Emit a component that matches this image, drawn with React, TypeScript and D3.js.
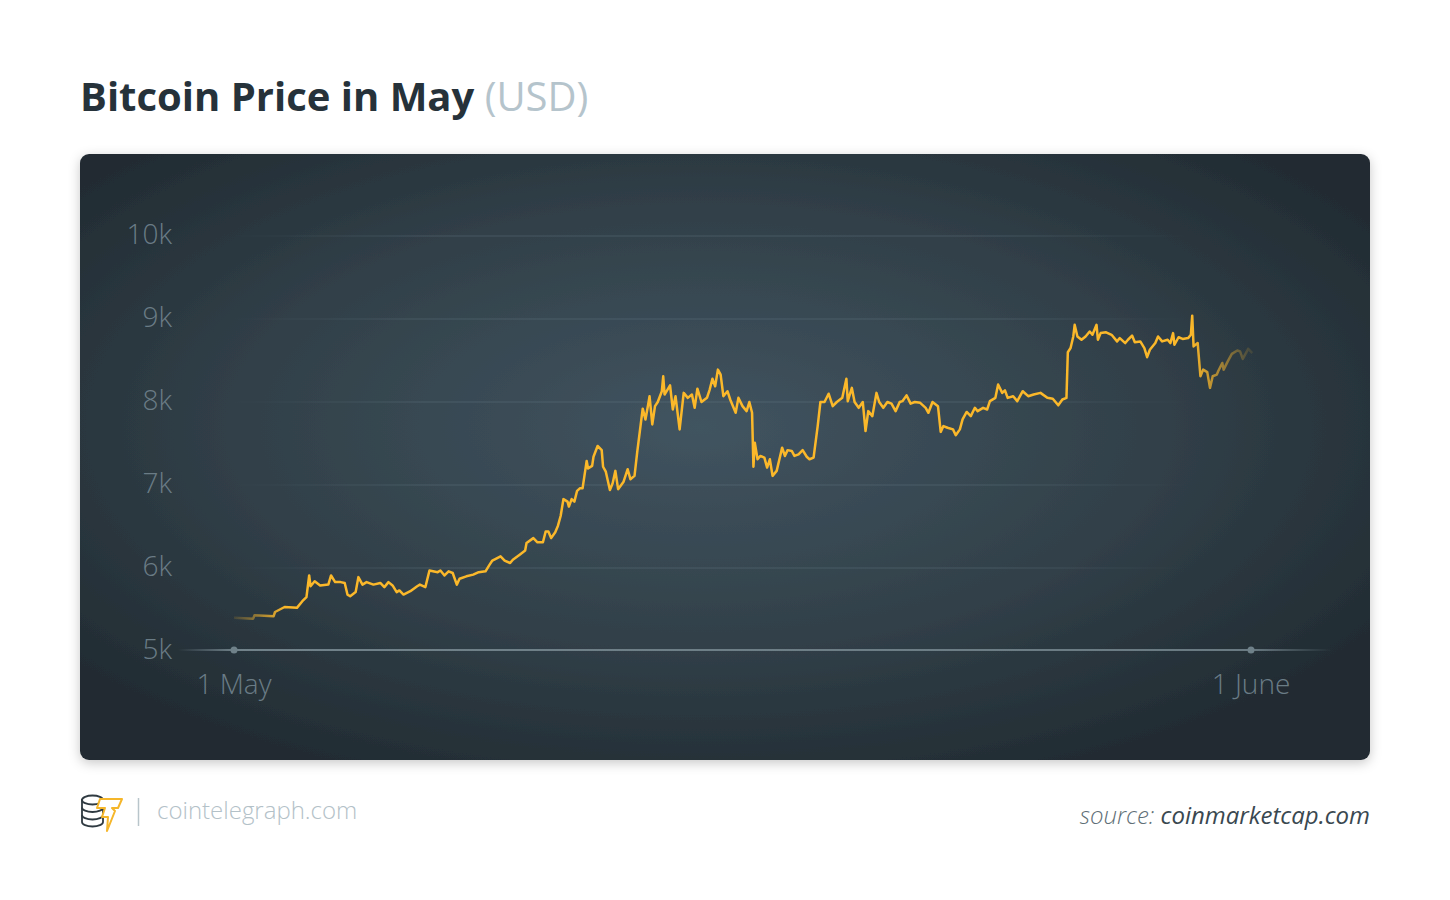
import React from "react";
import * as d3 from "d3";

// hours since 1 May 00:00 UTC
const hours = [
  0, 14, 15, 29, 30, 37, 46, 50, 53, 55, 56, 59, 63, 69, 71, 74, 78, 81, 83, 85,
  89, 91, 94, 97, 102, 107, 110, 113, 116, 119, 121, 124, 129, 134, 136, 140, 143, 149, 151, 154,
  157, 160, 163, 165, 170, 175, 179, 184, 187, 189, 195, 198, 202, 204, 209, 213, 214, 219, 222, 226,
  228, 230, 232, 235, 237, 239, 241, 244, 245, 247, 249, 251, 253, 255, 258, 259, 262, 263, 266, 269,
  270, 272, 275, 277, 279, 281, 285, 288, 290, 293, 295, 298, 299, 301, 303, 304, 306, 308, 310, 313,
  314, 315, 319, 321, 323, 326, 329, 332, 335, 337, 339, 342, 346, 348, 350, 352, 354, 356, 358, 361,
  363, 367, 369, 372, 375, 377, 379, 380, 381, 383, 385, 388, 390, 392, 394, 397, 399, 401, 403, 405,
  408, 410, 413, 416, 419, 421, 424, 427, 429, 432, 435, 438, 441, 445, 448, 449, 452, 454, 457, 460,
  462, 464, 467, 470, 472, 475, 478, 481, 484, 487, 489, 492, 495, 498, 502, 506, 508, 511, 515, 517,
  519, 522, 526, 528, 531, 533, 536, 539, 542, 544, 548, 551, 553, 557, 559, 562, 564, 566, 570, 573,
  577, 581, 585, 590, 595, 599, 603, 606, 609, 610, 612, 614, 615, 617, 620, 623, 626, 628, 631, 632,
  634, 638, 642, 646, 648, 652, 654, 657, 659, 663, 666, 668, 670, 674, 676, 679, 683, 685, 687, 688,
  691, 694, 698, 700, 701, 702, 705, 707, 709, 712, 714, 716, 719, 720, 723, 724, 727, 730, 734, 736,
  738, 742, 745,
];

const prices = [
  5400, 5390, 5430, 5420, 5470, 5530, 5520, 5600, 5650, 5910, 5780, 5840, 5790, 5800, 5910, 5830, 5830, 5820, 5680, 5660,
  5710, 5890, 5800, 5830, 5800, 5820, 5770, 5830, 5790, 5710, 5730, 5680, 5720, 5780, 5800, 5770, 5970, 5950, 5970, 5910,
  5960, 5940, 5800, 5870, 5900, 5920, 5950, 5960, 6040, 6090, 6140, 6090, 6060, 6100, 6160, 6210, 6300, 6360, 6310, 6310,
  6440, 6440, 6360, 6430, 6510, 6630, 6830, 6800, 6740, 6830, 6800, 6930, 6960, 6960, 7290, 7200, 7230, 7340, 7470, 7420,
  7220, 7160, 6940, 7020, 7170, 6950, 7040, 7190, 7070, 7110, 7400, 7790, 7920, 7790, 7970, 8070, 7730, 7950, 8000, 8130,
  8310, 8090, 8200, 7910, 8070, 7670, 8110, 8050, 8090, 7930, 8160, 8000, 8050, 8150, 8280, 8190, 8390, 8330, 8070, 8130,
  8030, 7870, 8050, 7950, 7890, 8000, 7870, 7220, 7510, 7310, 7350, 7330, 7210, 7310, 7110, 7170, 7310, 7450, 7350, 7420,
  7410, 7350, 7370, 7420, 7340, 7310, 7330, 7710, 8000, 8000, 8100, 7950, 8000, 8050, 8280, 8010, 8170, 8000, 7930, 8000,
  7650, 7890, 7830, 8110, 8000, 7930, 8000, 7980, 7890, 8000, 8010, 8080, 7980, 8000, 7990, 7930, 7870, 8000, 7950, 7640,
  7710, 7690, 7670, 7600, 7670, 7790, 7880, 7830, 7930, 7890, 7930, 7910, 8010, 8050, 8210, 8110, 8140, 8050, 8070, 8010,
  8130, 8070, 8090, 8110, 8050, 8040, 7960, 8030, 8050, 8600, 8650, 8790, 8930, 8790, 8750, 8790, 8850, 8810, 8930, 8750,
  8830, 8840, 8810, 8730, 8770, 8710, 8750, 8800, 8720, 8730, 8650, 8540, 8630, 8710, 8790, 8730, 8750, 8710, 8830, 8690,
  8780, 8760, 8770, 8810, 9040, 8670, 8710, 8310, 8390, 8360, 8170, 8310, 8330, 8370, 8470, 8390, 8490, 8580, 8620, 8610,
  8520, 8640, 8590,
];

const yTicks = [5000, 6000, 7000, 8000, 9000, 10000];
const yTickLabels = ["5k", "6k", "7k", "8k", "9k", "10k"];
const xTickDates = [new Date(Date.UTC(2018, 4, 1)), new Date(Date.UTC(2018, 5, 1))];
const xTickLabels = ["1 May", "1 June"];

const start = Date.UTC(2018, 4, 1);
const points = hours.map((h, i) => ({ date: new Date(start + h * 3600 * 1000), price: prices[i] }));

const FONT = "'Open Sans', 'Noto Sans', sans-serif";

export default function App() {
  const width = 1450;
  const height = 900;

  const x = d3.scaleUtc().domain([xTickDates[0], xTickDates[1]]).range([234, 1251]);
  const y = d3.scaleLinear().domain([5000, 10000]).range([651, 236]);

  const line = d3
    .line<{ date: Date; price: number }>()
    .x((d) => x(d.date))
    .y((d) => y(d.price));

  const x0 = x(points[0].date);
  const x1 = x(points[points.length - 1].date);
  const axisY = y(5000) - 1;

  return (
    <svg
      width={width}
      height={height}
      style={{ position: "absolute", left: 0, top: 0, display: "block", background: "#fff" }}
    >
      <defs>
        <radialGradient id="bg" cx="0.48" cy="0.45" r="0.62">
          <stop offset="0" stopColor="#415460" />
          <stop offset="0.55" stopColor="#32414a" />
          <stop offset="1" stopColor="#222c33" />
        </radialGradient>
        <filter id="shadow" x="-5%" y="-5%" width="110%" height="115%">
          <feDropShadow dx="0" dy="3" stdDeviation="6" floodColor="#000" floodOpacity="0.22" />
        </filter>
        <linearGradient id="lineFade" gradientUnits="userSpaceOnUse" x1={x0} x2={x1} y1={0} y2={0}>
          <stop offset="0" stopColor="#fbb82a" stopOpacity="0.12" />
          <stop offset="0.05" stopColor="#fbb82a" stopOpacity="1" />
          <stop offset="0.94" stopColor="#fbb82a" stopOpacity="1" />
          <stop offset="1" stopColor="#fbb82a" stopOpacity="0.1" />
        </linearGradient>
        <linearGradient id="gridFade" gradientUnits="userSpaceOnUse" x1={230} x2={1190} y1={0} y2={0}>
          <stop offset="0" stopColor="#6a808c" stopOpacity="0" />
          <stop offset="0.2" stopColor="#6a808c" stopOpacity="0.35" />
          <stop offset="0.8" stopColor="#6a808c" stopOpacity="0.35" />
          <stop offset="1" stopColor="#6a808c" stopOpacity="0" />
        </linearGradient>
        <linearGradient id="axisFade" gradientUnits="userSpaceOnUse" x1={178} x2={1332} y1={0} y2={0}>
          <stop offset="0" stopColor="#71828a" stopOpacity="0" />
          <stop offset="0.05" stopColor="#71828a" stopOpacity="1" />
          <stop offset="0.93" stopColor="#71828a" stopOpacity="0.9" />
          <stop offset="1" stopColor="#71828a" stopOpacity="0" />
        </linearGradient>
      </defs>

      {/* Title */}
      <text x={80} y={111} fontFamily={FONT} fontSize={40} fill="#26323a">
        <tspan fontWeight={700}>Bitcoin Price in May</tspan>
        <tspan fontWeight={400} fill="#b5c4cc"> (USD)</tspan>
      </text>

      {/* Card */}
      <rect x={80} y={154} width={1290} height={606} rx={9} fill="url(#bg)" filter="url(#shadow)" />

      {/* Grid */}
      {yTicks.slice(1).map((t) => (
        <line key={t} x1={230} x2={1190} y1={y(t)} y2={y(t)} stroke="url(#gridFade)" strokeWidth={1.2} />
      ))}

      {/* Y labels */}
      {yTicks.map((t, i) => (
        <text
          key={t}
          x={172}
          y={y(t) - 2}
          dy="0.35em"
          textAnchor="end"
          fontFamily={FONT}
          fontWeight={300}
          fontSize={28}
          fill="#6a7c86"
        >
          {yTickLabels[i]}
        </text>
      ))}

      {/* X axis */}
      <line x1={178} x2={1332} y1={axisY} y2={axisY} stroke="url(#axisFade)" strokeWidth={2} />
      {xTickDates.map((d, i) => (
        <g key={i}>
          <circle cx={x(d)} cy={axisY} r={3.5} fill="#6f8189" />
          <text
            x={x(d)}
            y={694}
            textAnchor="middle"
            fontFamily={FONT}
            fontWeight={300}
            fontSize={28}
            fill="#6a7c86"
          >
            {xTickLabels[i]}
          </text>
        </g>
      ))}

      {/* Price line */}
      <path
        d={line(points) || ""}
        fill="none"
        stroke="url(#lineFade)"
        strokeWidth={2.5}
        strokeLinejoin="round"
      />

      {/* Footer logo */}
      <g fill="#fff" stroke="#2f3a41" strokeWidth={1.8}>
        <path d="M82,800 L82,822 A10.5,4.5 0 0 0 103,822 L103,800 Z" />
        <ellipse cx={92.5} cy={800} rx={10.5} ry={4.5} />
        <path d="M82,807.5 A10.5,4.5 0 0 0 103,807.5" fill="none" />
        <path d="M82,815 A10.5,4.5 0 0 0 103,815" fill="none" />
      </g>
      <path
        d="M100,799 L122,799 L118,808 L112,808 L115,811 L107,831 L108,817 L102,817 L105,808 L97,808 Z"
        fill="#fff"
        stroke="#f5b62a"
        strokeWidth={2}
        strokeLinejoin="round"
      />
      <line x1={138.5} x2={138.5} y1={798} y2={826} stroke="#b8c5cb" strokeWidth={1.5} />
      <text x={157} y={819} fontFamily={FONT} fontWeight={300} fontSize={24} fill="#b3c1c8">
        cointelegraph.com
      </text>

      <text
        x={1370}
        y={824}
        textAnchor="end"
        fontFamily={FONT}
        fontSize={24}
        fontStyle="italic"
      >
        <tspan fontWeight={300} fill="#5f6f77">source: </tspan>
        <tspan fontWeight={400} fill="#3a4850">coinmarketcap.com</tspan>
      </text>
    </svg>
  );
}
